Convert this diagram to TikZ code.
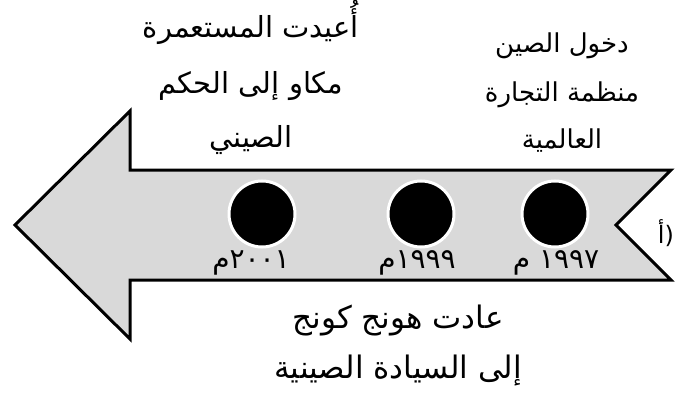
\documentclass[tikz,border=0pt]{standalone}
\usepackage{fontspec}
\newfontfamily\arabicfont[Script=Arabic]{DejaVu Sans}
\TeXXeTstate=1
\tikzset{
  lefttext/.style={font=\arabicfont\fontsize{29}{34}\selectfont, anchor=base, inner sep=0pt},
  righttext/.style={font=\arabicfont\fontsize{26}{31}\selectfont, anchor=base, inner sep=0pt},
  bottomtext/.style={font=\arabicfont\fontsize{31}{36}\selectfont, anchor=base, inner sep=0pt},
  yearlabel/.style={font=\arabicfont\fontsize{28}{33}\selectfont, anchor=base, inner sep=0pt},
  dot/.style={circle, fill=black, draw=white, line width=3pt, minimum size=66pt, inner sep=0pt},
  arrowbody/.style={fill=black!15, draw=black, line width=3pt, line join=miter}
}
\begin{document}
\begin{tikzpicture}[x=1pt,y=-1pt]
\useasboundingbox (0,0) rectangle (691,396);
\draw[arrowbody] (15,225) -- (130,111) -- (130,170) -- (671,170) -- (616,225)
  -- (671,280) -- (130,280) -- (130,339) -- cycle;
\node[dot] (c1) at (262,214) {};
\node[dot] (c2) at (421,214) {};
\node[dot] (c3) at (555,214) {};
\node[yearlabel] (y1) at (251,268) {\beginR ٢٠٠١م\endR};
\node[yearlabel] (y2) at (417,268) {\beginR ١٩٩٩م\endR};
\node[yearlabel] (y3) at (556,268) {\beginR ١٩٩٧ م\endR};
\node[font=\arabicfont\fontsize{24}{28}\selectfont, anchor=base, inner sep=0pt] (a) at (666,243) {(أ};
\node[lefttext] (l1) at (251,38) {\beginR أُعيدت المستعمرة\endR};
\node[lefttext] (l2) at (251,93) {\beginR مكاو إلى الحكم\endR};
\node[lefttext] (l3) at (251,147) {\beginR الصيني\endR};
\node[righttext] (r1) at (562,53) {\beginR دخول الصين\endR};
\node[righttext] (r2) at (562,102) {\beginR منظمة التجارة\endR};
\node[righttext] (r3) at (562,148) {\beginR العالمية\endR};
\node[bottomtext] (b1) at (398,328) {\beginR عادت هونج كونج\endR};
\node[bottomtext] (b2) at (398,378) {\beginR إلى السيادة الصينية\endR};
\end{tikzpicture}
\end{document}
